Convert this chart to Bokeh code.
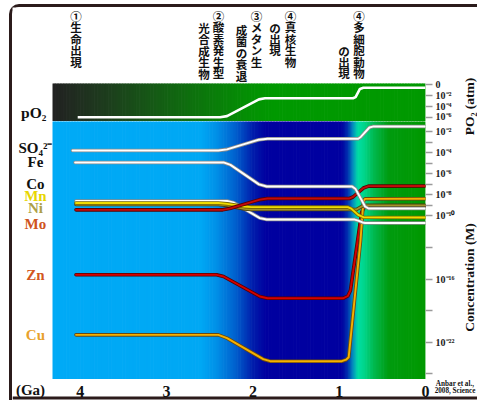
import numpy as np
from bokeh.plotting import figure
from bokeh.models import Range1d, FixedTicker
from bokeh.layouts import column, row
from bokeh.embed import file_html
from bokeh.resources import INLINE
from bokeh.core.properties import value

# ---------------- data ----------------
age_ticks = [4, 3, 2, 1, 0]
po2_ticks = [0, -2, -4, -6]
po2_tick_labels = ["0", "10⁻²", "10⁻⁴", "10⁻⁶"]
conc_ticks = [-2, -3, -4, -5, -6, -7, -8, -9, -10, -13, -16, -19, -22, -25]
conc_tick_labels = ["10⁻²", "", "10⁻⁴", "", "10⁻⁶", "", "10⁻⁸", "", "10⁻¹⁰",
                    "", "10⁻¹⁶", "", "10⁻²²", ""]

# atmospheric O2 (log10 atm) vs age (Ga)
po2_ga = [4.03, 2.38, 2.30, 1.93, 1.86, 0.84, 0.81, 0.76, 0.72, 0.0]
po2_log = [-5.95, -5.95, -5.75, -2.7, -2.5, -2.5, -2.3, -0.8, -0.6, -0.6]

# ocean concentrations (log10 M) vs age (Ga)
so4_ga = [4.09, 2.40, 2.30, 1.93, 1.83, 0.78, 0.75, 0.65, 0.61, 0.0]
so4_log = [-3.79, -3.79, -3.68, -2.76, -2.67, -2.67, -2.5, -1.6, -1.51, -1.51]

fe_ga = [4.06, 2.34, 2.26, 1.93, 1.84, 0.85, 0.81, 0.70, 0.66, 0.0]
fe_log = [-4.92, -4.92, -5.15, -7.0, -7.2, -7.2, -7.45, -9.1, -9.29, -9.29]

co_ga = [4.05, 2.30, 2.22, 1.92, 1.84, 0.82, 0.78, 0.73, 0.70, 0.0]
co_log = [-8.58, -8.58, -8.75, -10.2, -10.34, -10.34, -10.45, -10.62, -10.67, -10.67]

mn_ga = [4.05, 2.40, 2.30, 2.10, 2.02, 0.90, 0.86, 0.78, 0.72, 0.0]
mn_log = [-8.77, -8.77, -8.85, -9.1, -9.16, -9.16, -9.3, -9.9, -10.12, -10.15]

ni_ga = [4.05, 2.40, 2.30, 2.10, 2.02, 0.80, 0.74, 0.70, 0.0]
ni_log = [-8.91, -8.91, -9.0, -9.33, -9.39, -9.39, -9.1, -9.0, -9.0]

mo_ga = [4.05, 2.35, 2.27, 1.92, 1.83, 0.88, 0.84, 0.72, 0.66, 0.0]
mo_log = [-9.42, -9.42, -9.3, -8.45, -8.34, -8.34, -8.2, -7.35, -7.17, -7.16]

zn_ga = [4.05, 2.42, 2.34, 1.92, 1.83, 0.95, 0.90, 0.87, 0.74, 0.71, 0.68, 0.0]
zn_log = [-15.59, -15.59, -15.75, -17.65, -17.81, -17.81, -17.6, -17.08, -9.67, -9.15, -9.05, -9.05]

cu_ga = [4.05, 2.40, 2.30, 1.88, 1.80, 0.97, 0.92, 0.89, 0.753, 0.72, 0.70, 0.0]
cu_log = [-21.29, -21.29, -21.6, -23.6, -23.79, -23.79, -23.65, -23.42, -12.33, -8.6, -8.38, -8.36]

# species labels on the left and their colours
species_labels = ["SO₄²⁻", "Fe", "Co", "Mn", "Ni", "Mo", "Zn", "Cu"]
species_label_colors = ["#111111", "#111111", "#111111", "#e8d600",
                        "#ad9f48", "#cf5420", "#d2561e", "#e8a22c"]

# vertical Japanese event notes and the age (Ga) each sits at
event_notes = ["①生命出現", "②酸素発生型", "光合成生物", "③メタン生", "成菌の衰退",
               "④真核生物", "の出現", "④多細胞動物", "の出現"]
event_note_ga = [4.05, 2.40, 2.567, 1.958, 2.132, 1.564, 1.744, 0.771, 0.944]

# ---------------- layout / style constants ----------------
SERIF = "Liberation Serif"
CJK = "Noto Sans CJK JP"
PX_PER_GA = 86.3
FRAME_W = 413            # main frames: page x 12 .. 425 (0 Ga at x = 425)
RIGHT_W = 35             # room for the right axes
STRIP_W = 17             # strip for the right-hand axis titles
PAGE_TOP = 7             # page y of the first row
TOP_H, CONC_H, BOTTOM_H = 114, 258, 21   # page y 7-121, 121-379, 379-400
GA_LEFT = FRAME_W / PX_PER_GA
GA_RIGHT = -(RIGHT_W + STRIP_W) / PX_PER_GA
GA_PANEL = 4.322         # left edge of the coloured panels
PO2_PX = 5.5             # px per decade in the pO2 panel, log 0 at page y 84
PO2_PANEL_TOP = 0.182    # top of the coloured pO2 panel (page y 83)
PO2_RANGE = (-6.727, 0.182 + (83 - PAGE_TOP) / PO2_PX)
CONC_RANGE = (-25.53, -1.031)


def po2_units(page_y):
    return (84 - page_y) / PO2_PX


# left label positions (log10 M) and note row positions (page px)
species_label_y = [-3.50, -4.88, -6.92, -8.15, -9.20, -10.72, -15.61, -21.26]
note_first_y = [15.5, 15.5, 27.5, 15.5, 29.5, 15.5, 27, 15.5, 50]
NOTE_PITCH = 11.4

line_styles = [
    (zn_ga, zn_log, "#d40000", "#560000"),
    (cu_ga, cu_log, "#f5b000", "#6a4a10"),
    (co_ga, co_log, "#ffffff", "#8a8a8a"),
    (ni_ga, ni_log, "#a39228", "#4a4010"),
    (mn_ga, mn_log, "#f0dc00", "#7a6a00"),
    (mo_ga, mo_log, "#c40a0a", "#5a0000"),
    (so4_ga, so4_log, "#ffffff", "#8a8a8a"),
    (fe_ga, fe_log, "#ffffff", "#8a8a8a"),
]

top_stops_ga = [4.311, 3.766, 3.187, 2.607, 2.028, 1.738, 0.0]
top_stops_rgb = [(34, 34, 34), (30, 58, 30), (22, 88, 22), (12, 118, 12),
                 (4, 145, 4), (0, 153, 0), (0, 153, 0)]
conc_stops_ga = [4.322, 2.607, 2.433, 2.202, 2.005, 1.854, 0.973, 0.904,
                 0.846, 0.788, 0.718, 0.603, 0.429, 0.0]
conc_stops_rgb = [(0, 170, 246), (0, 168, 244), (0, 145, 232), (0, 95, 205),
                  (0, 30, 172), (0, 0, 160), (0, 0, 160), (0, 50, 176),
                  (0, 140, 190), (0, 220, 165), (0, 214, 140), (0, 185, 80),
                  (0, 155, 15), (0, 153, 0)]


def gradient(stops_ga, stops_rgb, n=240):
    edges = np.linspace(0, GA_PANEL, n + 1)
    mids = (edges[:-1] + edges[1:]) / 2
    sg = np.array(stops_ga, dtype=float)
    sc = np.array(stops_rgb, dtype=float)
    order = np.argsort(sg)
    sg, sc = sg[order], sc[order]
    cols = []
    for m in mids:
        r, g, b = (np.interp(m, sg, sc[:, k]) for k in range(3))
        cols.append("#%02x%02x%02x" % (int(round(r)), int(round(g)), int(round(b))))
    left = edges[:-1] - 0.004
    right = np.minimum(edges[1:] + 0.004, GA_PANEL)
    return left, right, cols


def bare(fig):
    fig.grid.visible = False
    fig.background_fill_color = "white"
    fig.border_fill_color = "white"
    fig.outline_line_color = None
    return fig


def txt(fig, x, y, text, color="#111111", size="15px", font=SERIF,
        align="center", baseline="middle", angle=0.0):
    fig.text(x=x, y=y, text=text, text_color=color, text_font=value(font),
             text_font_size=size, text_font_style="bold", text_align=align,
             text_baseline=baseline, angle=angle)


x_range = Range1d(GA_LEFT, 0)
main = dict(x_range=x_range, output_backend="svg", toolbar_location=None,
            frame_width=FRAME_W, min_border_left=0, min_border_right=RIGHT_W,
            min_border_top=0, min_border_bottom=0, x_axis_location=None,
            y_axis_location="right")

# ---------------- pO2 panel (with the event notes above it) ----------------
top = bare(figure(frame_height=TOP_H, y_range=Range1d(*PO2_RANGE), **main))
l, r, c = gradient(top_stops_ga, top_stops_rgb)
top.quad(left=l, right=r, bottom=PO2_RANGE[0] - 1, top=PO2_PANEL_TOP,
         fill_color=c, line_color=None)
top.line(po2_ga, po2_log, line_color="white", line_width=2.6, line_join="round")
txt(top, [4.54], [po2_units(112)], ["pO₂"], size="15.5px")

nx, ny, nt = [], [], []
for s, ga, y0 in zip(event_notes, event_note_ga, note_first_y):
    for i, ch in enumerate(s):
        nx.append(ga)
        ny.append(po2_units(y0 + i * NOTE_PITCH))
        nt.append(ch)
txt(top, nx, ny, nt, size="11.5px", font=CJK)

ay = top.yaxis[0]
ay.ticker = FixedTicker(ticks=po2_ticks)
ay.major_label_overrides = dict(zip(po2_ticks, po2_tick_labels))

# ---------------- concentration panel ----------------
conc = bare(figure(frame_height=CONC_H, y_range=Range1d(*CONC_RANGE), **main))
l, r, c = gradient(conc_stops_ga, conc_stops_rgb)
conc.quad(left=l, right=r, bottom=CONC_RANGE[0] - 1, top=CONC_RANGE[1] + 1,
          fill_color=c, line_color=None)
for ga, lg, core, edge in line_styles:
    conc.line(ga, lg, line_color=edge, line_width=3.6, line_join="round", line_cap="round")
    conc.line(ga, lg, line_color=core, line_width=1.9, line_join="round", line_cap="round")
txt(conc, [4.52] * len(species_labels), species_label_y, species_labels,
    color=species_label_colors, size="15px")

cy = conc.yaxis[0]
cy.ticker = FixedTicker(ticks=conc_ticks)
cy.major_label_overrides = dict(zip(conc_ticks, conc_tick_labels))

for ax in (ay, cy):
    ax.axis_line_color = None
    ax.major_tick_out = 7
    ax.major_tick_in = 0
    ax.major_tick_line_color = "#9a9a9a"
    ax.major_tick_line_width = 1.5
    ax.minor_tick_line_color = None
    ax.major_label_standoff = 3
    ax.major_label_text_font = SERIF
    ax.major_label_text_font_style = "bold"
    ax.major_label_text_font_size = "10px"
    ax.major_label_text_color = "#1a1a1a"

# ---------------- right strip: axis titles ----------------
strip_h = TOP_H + CONC_H
strip_bottom = PAGE_TOP + strip_h
titles = bare(figure(frame_width=STRIP_W, frame_height=strip_h,
                     x_range=Range1d(0, STRIP_W), y_range=Range1d(0, strip_h),
                     output_backend="svg", toolbar_location=None,
                     x_axis_location=None, y_axis_location=None, min_border=0))
txt(titles, [8.5, 8.5], [strip_bottom - 106, strip_bottom - 277],
    ["PO₂ (atm)", "Concentration (M)"], size="13.5px", angle=np.pi / 2)

# ---------------- bottom strip: age labels, source and frame line ----------------
bottom_page = strip_bottom + BOTTOM_H
bottom = bare(figure(frame_width=FRAME_W + RIGHT_W + STRIP_W, frame_height=BOTTOM_H,
                     x_range=Range1d(GA_LEFT, GA_RIGHT),
                     y_range=Range1d(0, BOTTOM_H), output_backend="svg",
                     toolbar_location=None, x_axis_location=None,
                     y_axis_location=None, min_border=0))
bottom.quad(left=[GA_LEFT], right=[GA_RIGHT], bottom=[bottom_page - 399],
            top=[bottom_page - 396], fill_color="#2b1b1b", line_color=None)
txt(bottom, age_ticks, [bottom_page - 390.5] * len(age_ticks),
    [str(t) for t in age_ticks], size="16px")
txt(bottom, [4.577], [bottom_page - 389.5], ["(Ga)"], size="15px")
txt(bottom, [-0.342, -0.342], [bottom_page - 383.5, bottom_page - 390.5],
    ["Anbar et al.,", "2008, Science"], size="7.2px")

layout = column(
    row(column(top, conc, spacing=0), titles, spacing=0),
    bottom,
    spacing=0,
    styles={
        "margin-left": "9px",
        "margin-top": "4px",
        "border-left": "3px solid #2b1b1b",
        "border-top": "3px solid #2b1b1b",
        "border-top-left-radius": "10px",
    },
)

open("out.html", "w").write(file_html(layout, INLINE))
